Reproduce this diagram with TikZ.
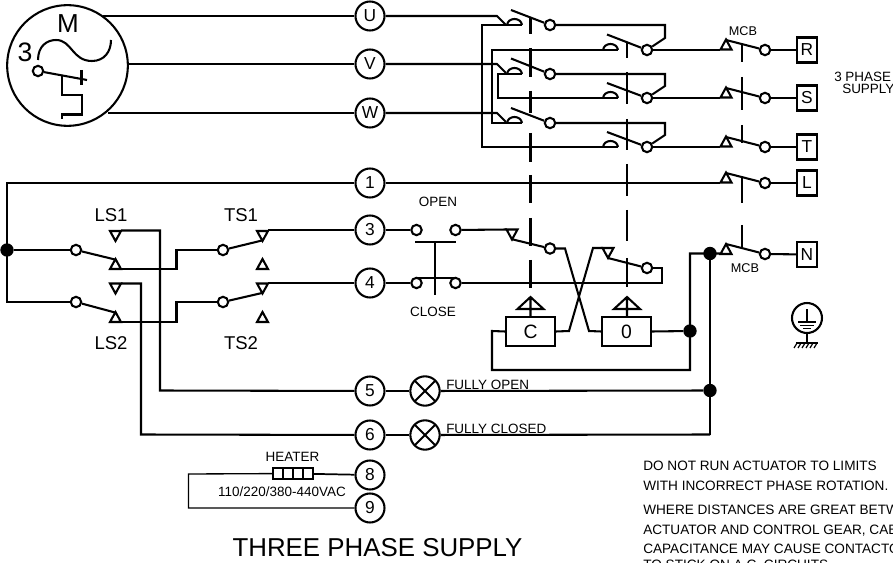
\documentclass[tikz,border=0pt]{standalone}
\usepackage{fontspec}
\setmainfont{Liberation Sans}
\newcommand{\fz}[1]{\fontsize{#1}{#1}\selectfont}
\tikzset{
 x=0.75pt,y=-0.75pt,
 wire/.style={line width=1.55pt,line cap=butt,line join=miter},
 thinwire/.style={line width=1pt},
 term/.style={circle,draw,line width=1.55pt,minimum size=21.75pt,inner sep=0pt,font=\fz{13},fill=white},
 lug/.style={circle,draw,line width=1.55pt,minimum size=7.8pt,inner sep=0pt,fill=white},
 joint/.style={circle,fill=black,minimum size=10pt,inner sep=0pt},
 boxterm/.style={rectangle,draw,line width=1.55pt,minimum width=15pt,minimum height=18.75pt,inner sep=0pt,font=\fz{13},fill=white},
 coil/.style={rectangle,draw,line width=1.55pt,minimum width=36.5pt,minimum height=21.5pt,inner sep=0pt,font=\fz{14.5},fill=white},
 lamp/.style={circle,draw,line width=1.55pt,minimum size=22pt,inner sep=0pt,path picture={\draw[line width=1.55pt] (path picture bounding box.south west)--(path picture bounding box.north east) (path picture bounding box.north west)--(path picture bounding box.south east);}},
 lab/.style={inner sep=0pt,font=\fz{10.1}},
 biglab/.style={inner sep=0pt,font=\fz{13.9}},
 note/.style={inner sep=0pt,anchor=base west,font=\fz{10.2}},
 archc/.pic={\draw[wire] (0,0) .. controls (1,-8) and (14,-8) .. (15,0);},
 tipup/.pic={\draw[wire,line join=miter] (-5.5,0) -- (0,-10) -- (5.5,0) -- cycle;},
 tipdown/.pic={\draw[wire,line join=miter] (-5.5,0) -- (0,10) -- (5.5,0) -- cycle;},
 actuator/.pic={\draw[wire] (-13,12) -- (0,0) -- (13,12) -- cycle (0,0) -- (0,20);},
}
\begin{document}
\begin{tikzpicture}
\path[use as bounding box,fill=white] (0,0) rectangle (893,563);
\clip (0,0) rectangle (893,563);

% ---- motor
\node[circle,draw,line width=1.55pt,minimum size=90.5pt,inner sep=0pt] (motor) at (67.5,65.5) {};
\node[inner sep=0pt,font=\fz{19.5}] (mlab) at (68,24) {M};
\node[inner sep=0pt,font=\fz{20}] (three) at (25,52) {3};
\draw[wire] (38,60) .. controls (38,46) and (47,40) .. (56,40) .. controls (72,40) and (72,61) .. (92,61) .. controls (104,61) and (111,52) .. (111,40);
\node[lug] (mth) at (38,71) {};
\coordinate (thA) at (87,80);
\draw[wire] (mth) -- (thA);
\draw[wire] (81.5,70) -- (81.5,85);
\draw[wire] (62,76) -- (62,95) -- (82,95) -- (82,114.5) -- (62,114.5) -- (62,119);

% ---- numbered terminals
\node[term] (U) at (370,16) {U};
\node[term] (V) at (370,64) {V};
\node[term] (W) at (370,113) {W};
\node[term] (t1) at (370,183) {1};
\node[term] (t3) at (370,230) {3};
\node[term] (t4) at (370,283) {4};
\node[term] (t5) at (370,391) {5};
\node[term] (t6) at (370,435) {6};
\node[term] (t8) at (370,475) {8};
\node[term] (t9) at (370,508) {9};

% ---- contactor lugs
\node[lug] (a1) at (550,25) {};
\node[lug] (a2) at (550,74) {};
\node[lug] (a3) at (550,123) {};
\node[lug] (b1) at (647,50) {};
\node[lug] (b2) at (647,98) {};
\node[lug] (b3) at (647,147) {};
\node[lug] (c1) at (765,50) {};
\node[lug] (c2) at (765,98) {};
\node[lug] (c3) at (765,147) {};
\node[lug] (c4) at (765,183) {};
\node[lug] (c5) at (765,254) {};
\node[boxterm] (R) at (807,50) {R};
\node[boxterm] (S) at (807,98) {S};
\node[boxterm] (T) at (807,147) {T};
\node[boxterm] (L) at (807,183) {L};
\node[boxterm] (N) at (807,254.5) {N};

% motor to U V W
\coordinate (mU) at (103,16);
\coordinate (mV) at (128,64);
\coordinate (mW) at (108,113);
\draw[wire] (mU) -- (U);
\draw[wire] (mV) -- (V);
\draw[wire] (mW) -- (W);

% incoming to first contactor
\draw[wire] (U) -- (497,16) -- (506,25);
\draw[wire] (V) -- (497,64) -- (506,73);
\draw[wire] (W) -- (497,113) -- (506,122);
\pic at (507,25) {archc};
\pic at (507,74) {archc};
\pic at (507,123) {archc};
\pic at (603,50) {archc};
\pic at (603,98) {archc};
\pic at (603,147) {archc};
% baselines + crossings
\draw[wire] (522,25) -- (482,25) -- (482,147) -- (618,147);
\draw[wire] (522,74) -- (498,74) -- (498,98) -- (618,98);
\draw[wire] (522,123) -- (492,123) -- (492,50) -- (618,50);
% moving blades
\coordinate (ma1) at (511,10);
\coordinate (ma2) at (511,58.5);
\coordinate (ma3) at (511,108);
\coordinate (mb1) at (607,34.5);
\coordinate (mb2) at (607,83);
\coordinate (mb3) at (607,132);
\draw[wire] (ma1) -- (a1);
\draw[wire] (ma2) -- (a2);
\draw[wire] (ma3) -- (a3);
\draw[wire] (mb1) -- (b1);
\draw[wire] (mb2) -- (b2);
\draw[wire] (mb3) -- (b3);
% a to b
\draw[wire] (a1) -- (665,25) -- (665,38) -- (b1);
\draw[wire] (a2) -- (665,74) -- (665,86) -- (b2);
\draw[wire] (a3) -- (665,123) -- (665,135) -- (b3);
% b to MCB
\draw[wire] (b1) -- (720,50);
\draw[wire] (b2) -- (720,98);
\draw[wire] (b3) -- (720,147);
\pic at (726,49.5) {tipup};
\pic at (726,97.5) {tipup};
\pic at (726,146.5) {tipup};
\pic at (726,182.5) {tipup};
\pic at (726,254) {tipup};
\draw[wire] (726,40) -- (c1);
\draw[wire] (726,88) -- (c2);
\draw[wire] (726,137) -- (c3);
\draw[wire] (726,173) -- (c4);
\draw[wire] (726,244) -- (c5);
\draw[wire] (c1) -- (R);
\draw[wire] (c2) -- (S);
\draw[wire] (c3) -- (T);
\draw[wire] (c4) -- (L);
\draw[wire] (c5) -- (N);

% ---- mechanical links
\draw[wire] (530.5,17)--(530.5,34) (530.5,48)--(530.5,77) (530.5,91)--(530.5,113) (530.5,133)--(530.5,162) (530.5,175)--(530.5,203) (530.5,218)--(530.5,246) (530.5,260)--(530.5,288);
\draw[wire] (627,43)--(627,58) (627,72)--(627,104) (627,119)--(627,150) (627,164)--(627,196) (627,210)--(627,241) (627,258)--(627,287);
\draw[wire] (742,45)--(742,62) (742,77)--(742,110) (742,125)--(742,143) (742,177)--(742,203) (742,225)--(742,248);

% ---- control wiring
\node[joint] (j0) at (7,250) {};
\node[lug] (d1) at (76,250) {};
\node[lug] (d2) at (76,302) {};
\node[lug] (e1) at (223,250) {};
\node[lug] (e2) at (223,302) {};
\draw[wire] (t1) -- (7,183) -- (7,302) -- (d2);
\draw[wire] (j0) -- (d1);
\draw[wire] (t1) -- (720,183);
\pic at (115.5,269) {tipup};
\pic at (115.5,322) {tipup};
\draw[wire] (d1) -- (115,259.5);
\draw[wire] (d2) -- (115,312.5);
\draw[wire] (121,269) -- (176.5,269) -- (176.5,250) -- (e1);
\draw[wire] (121,322) -- (176.5,322) -- (176.5,302) -- (e2);
\pic at (115.5,231) {tipdown};
\pic at (115.5,283.5) {tipdown};
\draw[wire] (121,230.5) -- (160,230.5) -- (160,390.5) -- (t5);
\draw[wire] (121,283.5) -- (141,283.5) -- (141,434.5) -- (t6);
\pic at (262.5,231) {tipdown};
\pic at (262.5,283.5) {tipdown};
\pic at (262.5,269) {tipup};
\pic at (262.5,322) {tipup};
\draw[wire] (e1) -- (262,240.5);
\draw[wire] (e2) -- (262,293);
\draw[wire] (268,230) -- (t3);
\draw[wire] (268,283) -- (t4);

% push buttons
\node[lug] (p1) at (416.5,230) {};
\node[lug] (p2) at (455.5,230) {};
\node[lug] (p3) at (416.5,283) {};
\node[lug] (p4) at (455.5,283) {};
\draw[wire] (t3) -- (p1);
\draw[wire] (t4) -- (p3);
\draw[wire] (415,242) -- (456,242);
\draw[wire] (416,278) -- (455,278);
\draw[wire] (435,242) -- (435,295);

% contacts of the coil circuits
\pic at (512,229.5) {tipdown};
\draw[wire] (p2) -- (507,229.5);
\node[lug] (f1) at (550,248.5) {};
\draw[wire] (511,239) -- (f1);
\pic at (608,248) {tipdown};
\node[lug] (f2) at (647,268) {};
\draw[wire] (608,258) -- (f2);
\draw[wire] (p4) -- (662,283) -- (662,268) -- (f2);

% coils
\node[coil] (C) at (530.5,331.5) {C};
\node[coil] (O) at (626.5,331.5) {0};
\pic at (530.5,297) {actuator};
\pic at (627,297) {actuator};
\draw[wire] (C.east) -- (569,331) -- (593,248) -- (603,248);
\draw[wire] (f1) -- (565,248.5) -- (589,331) -- (O.west);
\node[joint] (j1) at (690,331) {};
\node[joint] (j2) at (710,253.5) {};
\node[joint] (j3) at (710,390.5) {};
\draw[wire] (O.east) -- (j1);
\draw[wire] (C.west) -- (492,331) -- (492,370) -- (690,370) -- (690,253.5) -- (720,253.5);
\draw[wire] (j2) -- (710,434.5);

% lamps
\node[lamp] (l5) at (425,391) {};
\node[lamp] (l6) at (425,435) {};
\draw[wire] (t5) -- (l5);
\draw[wire] (t6) -- (l6);
\draw[wire] (l5) -- (j3);
\draw[wire] (l6) -- (710,434.5);

% heater
\node[rectangle,draw,line width=1.3pt,minimum width=30pt,minimum height=8pt,inner sep=0pt] (heat) at (293,473.5) {};
\draw[line width=1.3pt] (283,468) -- (283,479) (293,468) -- (293,479) (303,468) -- (303,479);
\draw[line width=1.3pt] (heat) -- (t8);
\draw[thinwire] (heat) -- (188.5,474) -- (188.5,508) -- (t9);

% earth
\node[circle,draw,line width=1.55pt,minimum size=22.5pt,inner sep=0pt] (earth) at (807,318) {};
\coordinate (gnd) at (807,343);
\draw[wire] (earth.south) -- (gnd);
\draw[wire] (807,309) -- (807,322) (798,322) -- (816,322);
\draw[line width=1.2pt] (800,325.5) -- (814,325.5) (803,328.5) -- (811,328.5);
\draw[wire] (796,343) -- (818,343);
\draw[line width=0.9pt] (797,343) -- (794,348) (801,343) -- (798,348) (805,343) -- (802,348) (809,343) -- (806,348) (813,343) -- (810,348) (817,343) -- (814,348);

% ---- labels
\node[lab,font=\fz{9.5}] (mcb1) at (743,31) {MCB};
\node[lab,font=\fz{9.5}] (mcb2) at (745,268) {MCB};
\node[lab,anchor=base west] (ph) at (834,82) {3 PHASE};
\node[lab,anchor=base west] (su) at (842,93.5) {SUPPLY};
\node[lab] (open) at (438,202) {OPEN};
\node[lab] (close) at (433,312) {CLOSE};
\node[biglab] (ls1) at (111,215) {LS1};
\node[biglab] (ts1) at (241,215) {TS1};
\node[biglab] (ls2) at (111,343) {LS2};
\node[biglab] (ts2) at (241,343) {TS2};
\node[lab,anchor=base west] (fo) at (446,389) {FULLY OPEN};
\node[lab,anchor=base west] (fc) at (446,433) {FULLY CLOSED};
\node[lab] (hl) at (292.5,457) {HEATER};
\node[lab] (vac) at (282,492) {110/220/380-440VAC};
\node[inner sep=0pt,font=\fz{19.4}] (title) at (377.5,548) {THREE PHASE SUPPLY};
\node[note] (n1) at (643,470) {DO NOT RUN ACTUATOR TO LIMITS};
\node[note] (n2) at (643,490) {WITH INCORRECT PHASE ROTATION.};
\node[note] (n3) at (643,514) {WHERE DISTANCES ARE GREAT BETWEEN};
\node[note] (n4) at (643,534) {ACTUATOR AND CONTROL GEAR, CABLE};
\node[note] (n5) at (643,553) {CAPACITANCE MAY CAUSE CONTACTORS};
\node[note] (n6) at (643,569) {TO STICK ON A.C. CIRCUITS};
\end{tikzpicture}
\end{document}
